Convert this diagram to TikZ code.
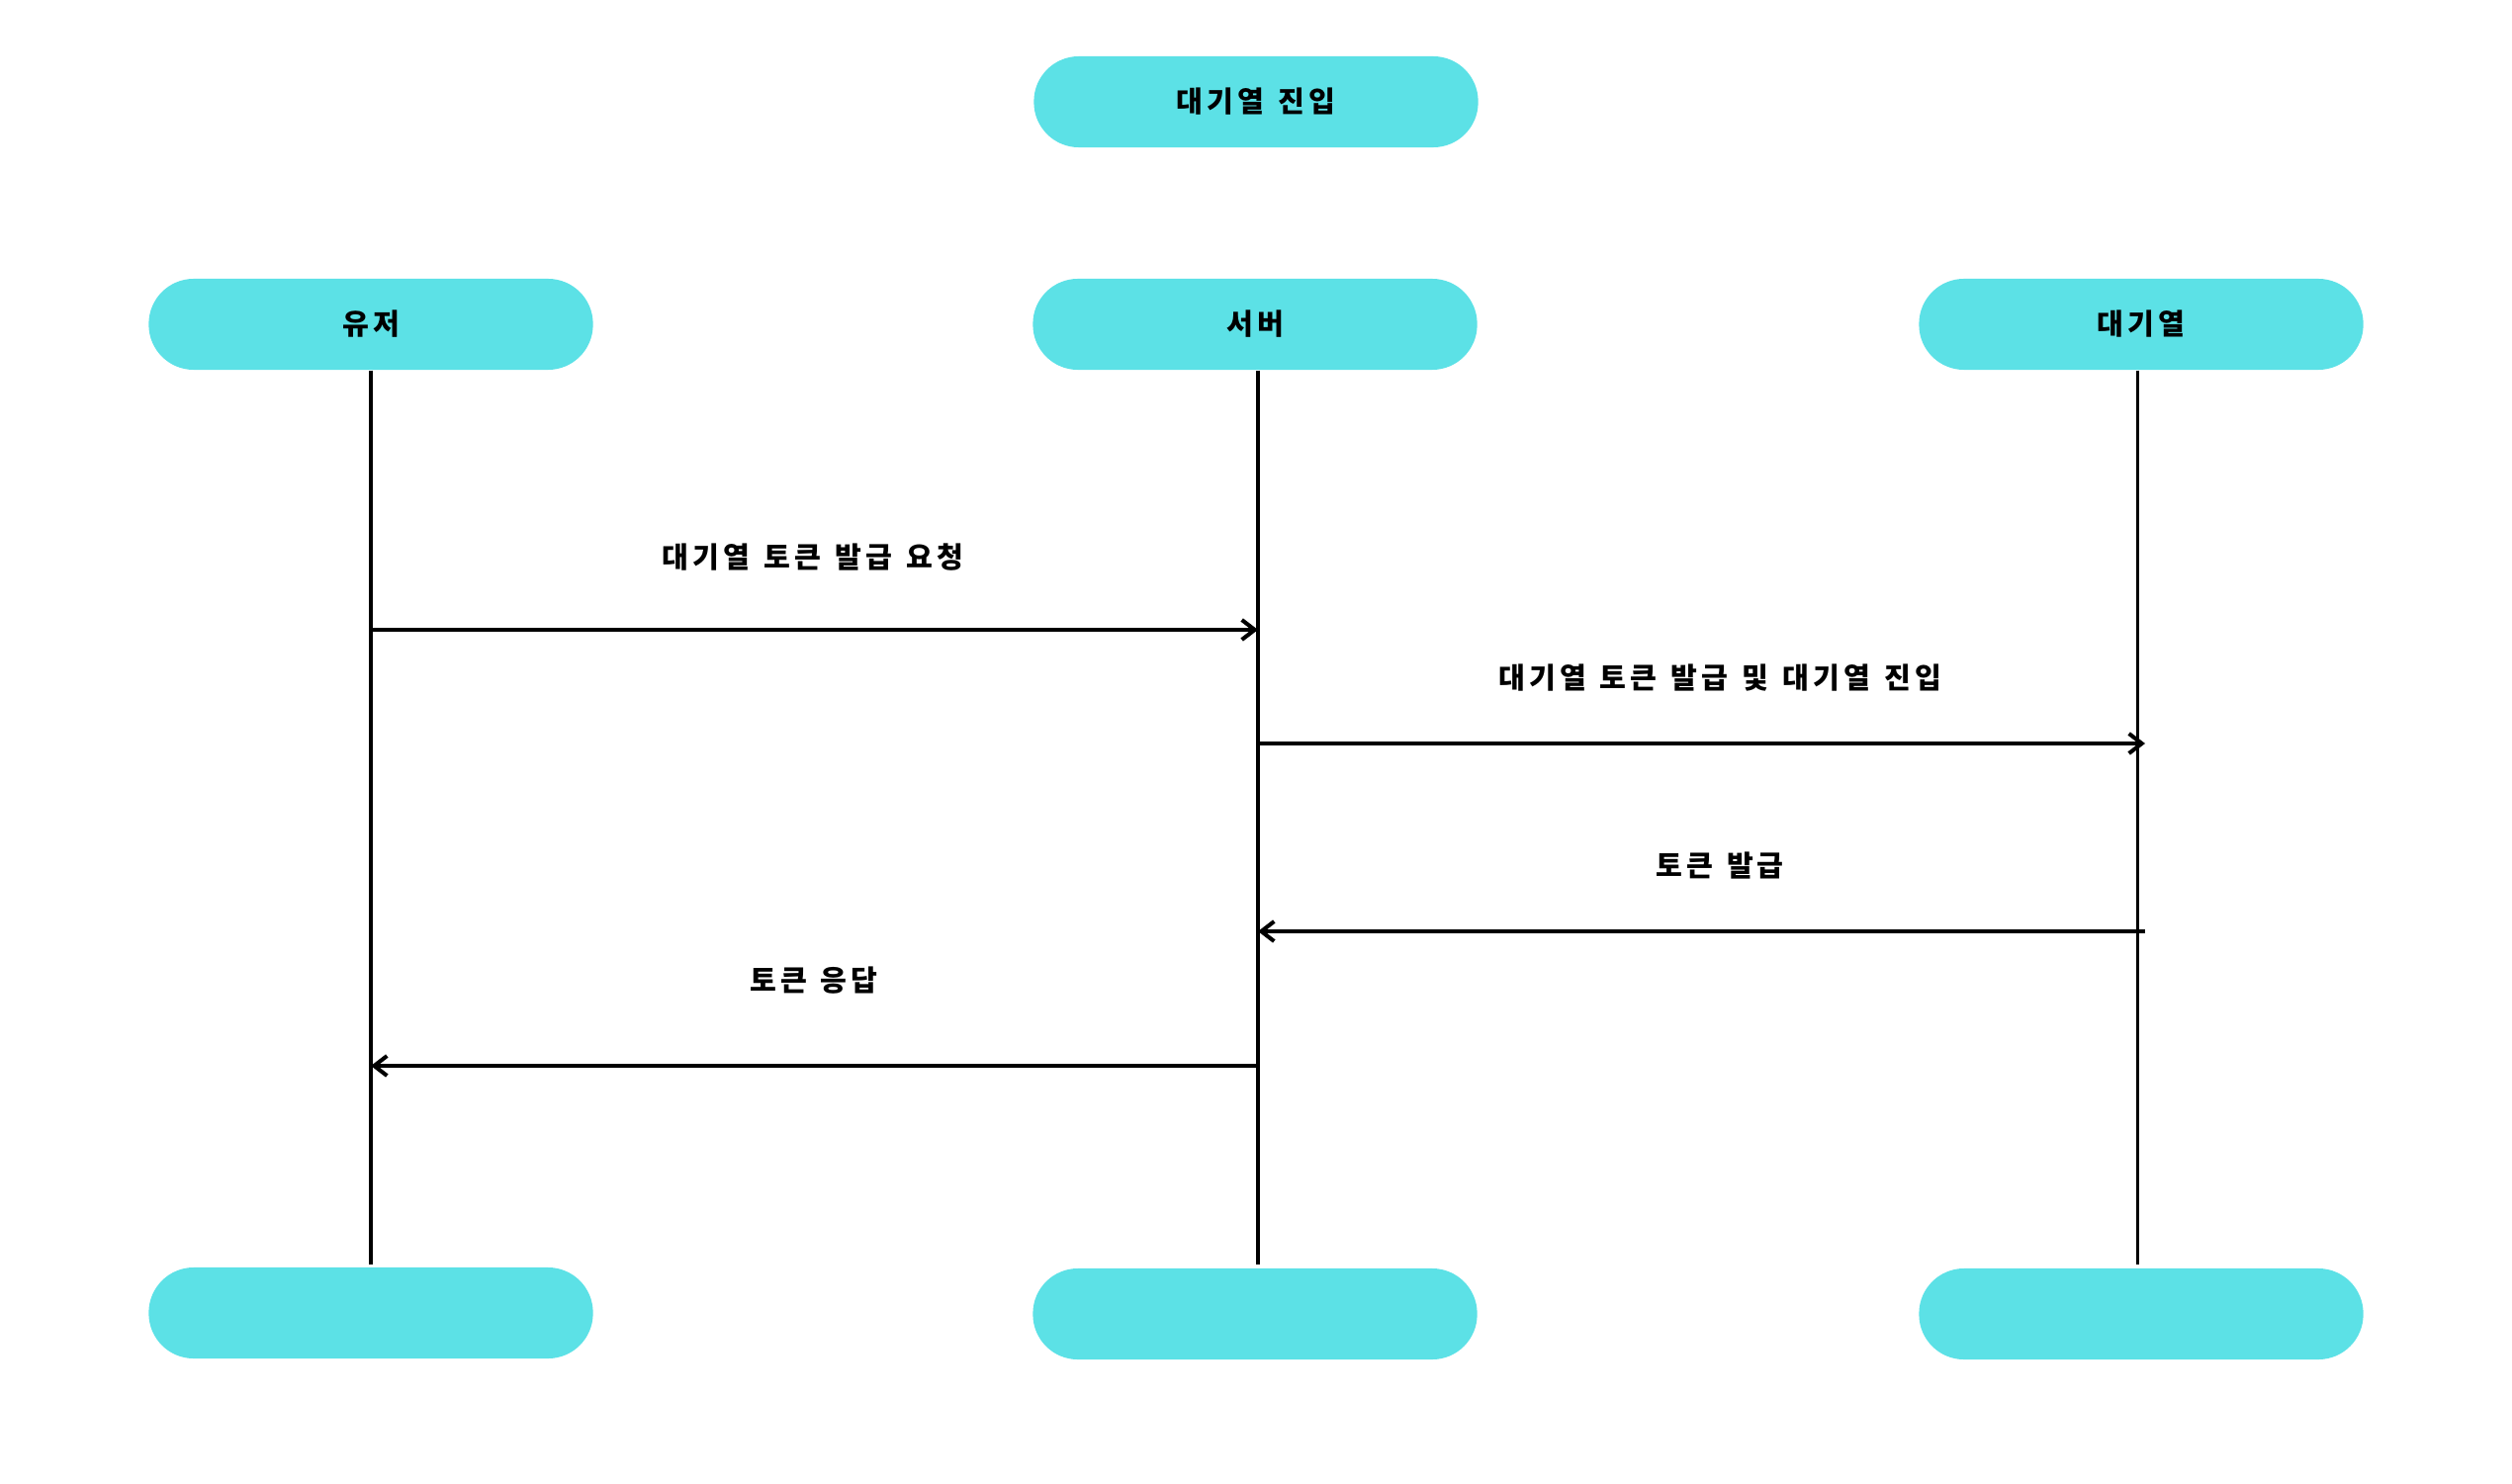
\documentclass[tikz,border=0pt]{standalone}
\usepackage{fontspec}
\setmainfont{Noto Sans CJK KR}[LetterSpace=14, WordSpace=1.3]
\usetikzlibrary{arrows.meta}
\definecolor{boxcyan}{HTML}{5CE1E6}
\begin{document}
\begin{tikzpicture}[x=0.01cm,y=-0.01cm,
  lane/.style={fill=boxcyan, draw=none, rounded corners=0.455cm,
    minimum width=4.49cm, minimum height=0.92cm, inner sep=0pt,
    font=\bfseries\fontsize{8.3pt}{10pt}\selectfont},
  lbl/.style={inner sep=0pt, font=\bfseries\fontsize{8.3pt}{10pt}\selectfont},
  life/.style={line width=1pt, black},
  msg/.style={line width=1.15pt, black, -{Straight Barb[length=0.13cm,width=0.2cm]}}]
\useasboundingbox (0,0) rectangle (2540,1500);
% participant boxes
\node[lane] (title) at (1270,103) {대기열 진입};
\node[lane] (usr) at (375,328) {유저};
\node[lane] (srv) at (1269,328) {서버};
\node[lane] (que) at (2165,328) {대기열};
\node[lane] (usrB) at (375,1328) {};
\node[lane] (srvB) at (1269,1329) {};
\node[lane] (queB) at (2165,1329) {};
% lifelines
\draw[life] (usr.south) -- ([yshift=0.02cm]usrB.north);
\draw[life] ([xshift=0.03cm]srv.south) -- ([xshift=0.03cm,yshift=0.03cm]srvB.north);
\draw[life] ([xshift=-0.035cm]que.south) -- ([xshift=-0.035cm,yshift=0.03cm]queB.north);
% message end points on lifelines
\coordinate (m1a) at (375,637);  \coordinate (m1b) at (1272,637);
\coordinate (m2a) at (1272,752); \coordinate (m2b) at (2169,752);
\coordinate (m3a) at (2169,942); \coordinate (m3b) at (1272,942);
\coordinate (m4a) at (1273,1078); \coordinate (m4b) at (375,1078);
\draw[msg] (m1a) -- (m1b);
\draw[msg] (m2a) -- (m2b);
\draw[msg] (m3a) -- (m3b);
\draw[msg] (m4a) -- (m4b);
% labels
\node[lbl] (t1) at (822,564) {대기열 토큰 발급 요청};
\node[lbl] (t2) at (1739,686) {대기열 토큰 발급 및 대기열 진입};
\node[lbl] (t3) at (1739,876) {토큰 발급};
\node[lbl] (t4) at (823,992) {토큰 응답};
\end{tikzpicture}
\end{document}
